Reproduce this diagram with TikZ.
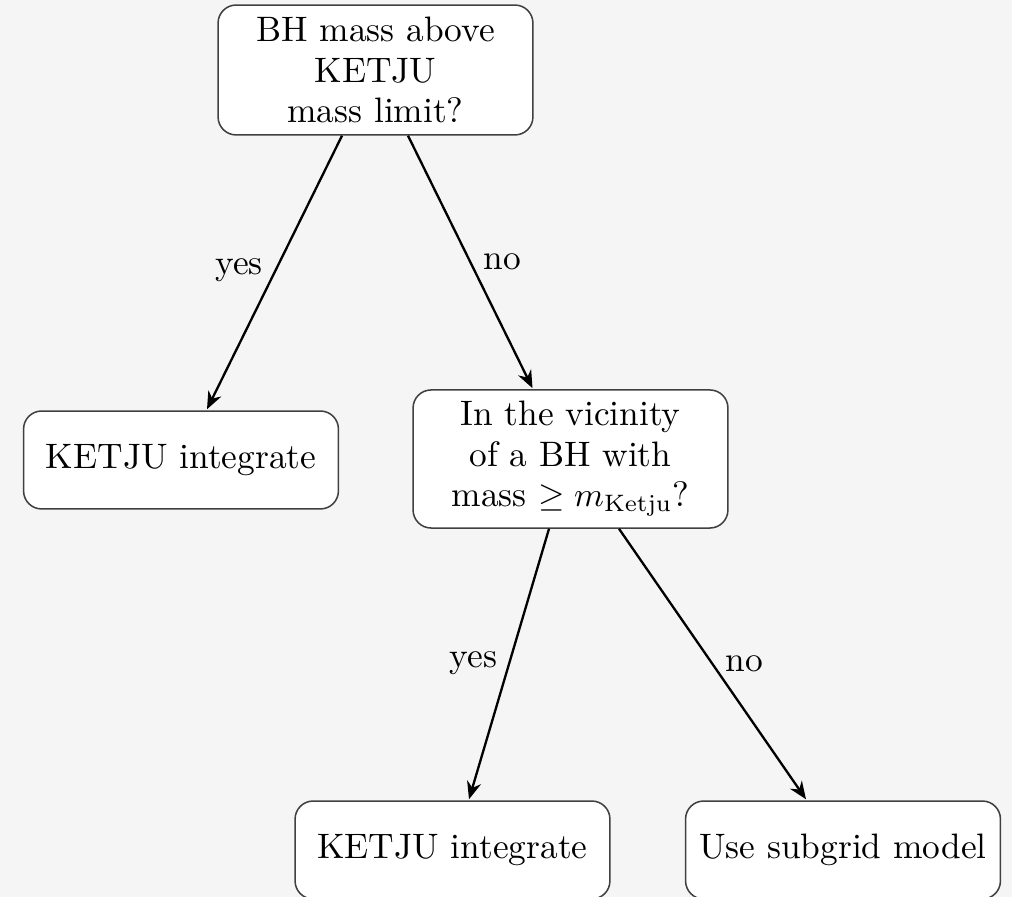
\documentclass[tikz,border=0pt]{standalone}
\usetikzlibrary{calc,arrows.meta}
\begin{document}
\begin{tikzpicture}[x=0.29412pt,y=-0.29412pt,
  box/.style={draw=black!75, line width=0.45pt, fill=white, rounded corners=5.3pt,
    minimum width=92.6pt, align=center, inner sep=0pt,
    font=\fontsize{10.4}{11.9}\selectfont},
  arr/.style={-{Stealth[length=5.2pt,width=4.2pt]}, line width=0.68pt},
  lab/.style={anchor=base, inner sep=0pt, font=\fontsize{10.4}{11.9}\selectfont}]
\useasboundingbox[fill=black!4] (0,0) rectangle (1012,897);
\node[box, minimum height=38.2pt] (top) at (375.5,70) {BH mass above\\KETJU\\mass limit?};
\node[box, minimum height=28.8pt] (left) at (181,460) {KETJU integrate};
\node[box, minimum height=40.6pt] (mid) at (570.5,459) {In the vicinity\\of a BH with\\mass $\geq m_{\mathrm{Ketju}}$?};
\node[box, minimum height=28.8pt] (bl) at (452.5,850) {KETJU integrate};
\node[box, minimum height=28.8pt] (br) at (843,850) {Use subgrid model};
\draw[arr] ($(top.south)+(-33.5,0)$) -- ($(left.north)+(26,-1)$);
\draw[arr] ($(top.south)+(32.5,0)$) -- ($(mid.north)+(-38,-1)$);
\draw[arr] ($(mid.south)+(-21.5,0)$) -- ($(bl.north)+(16.5,-1)$);
\draw[arr] ($(mid.south)+(48.5,0)$) -- ($(br.north)+(-37,-1)$);
\node[lab] (y1) at (239,275) {yes};
\node[lab] (n1) at (502.5,270) {no};
\node[lab] (y2) at (473.5,668) {yes};
\node[lab] (n2) at (744.5,672) {no};
\end{tikzpicture}
\end{document}
